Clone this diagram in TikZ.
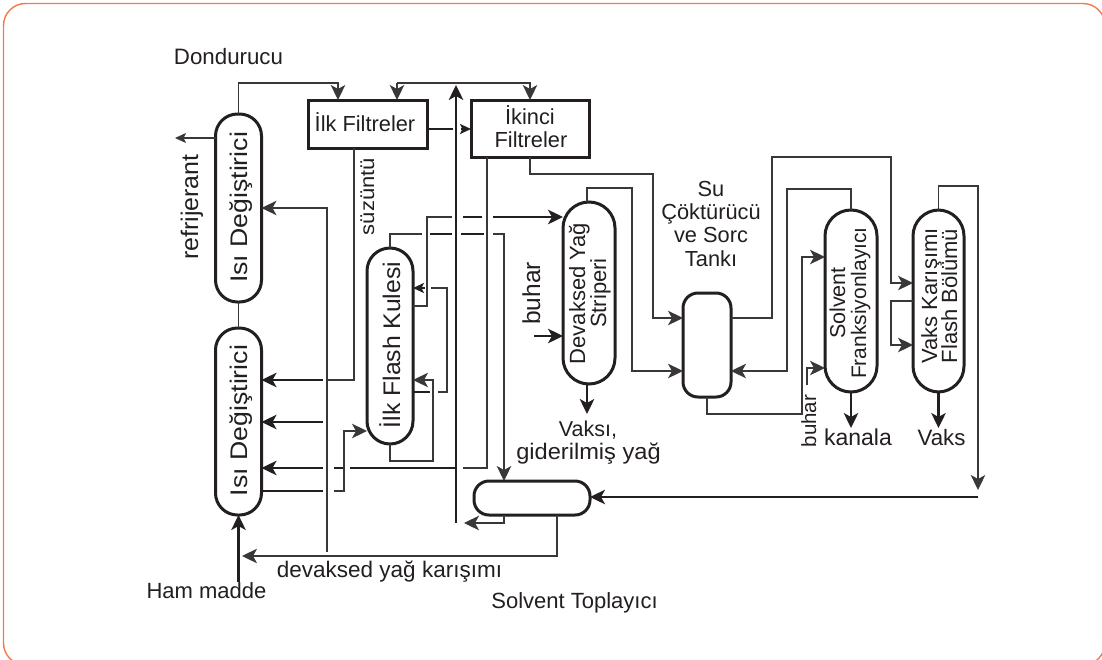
\documentclass[tikz,border=0pt]{standalone}
\usepackage{fontspec}
\setmainfont{Liberation Sans}
\usetikzlibrary{arrows.meta}
\definecolor{ink}{HTML}{231F20}
\definecolor{thin}{HTML}{3A3738}
\definecolor{frame}{HTML}{F27B4B}
\newcommand{\fs}[1]{\fontsize{#1}{#1}\selectfont}
\newcommand{\st}[2]{\scalebox{#1}[1]{#2}}
\tikzset{
  vessel/.style={draw=ink,line width=3pt,rounded corners=#1,inner sep=0pt,outer sep=0pt},
  filterbox/.style={draw=ink,line width=3pt,inner sep=0pt,outer sep=0pt},
  label/.style={inner sep=0pt,outer sep=0pt,anchor=base,text=ink},
  vlabel/.style={label,rotate=90},
  pipe/.style={draw=thin,line width=1.3pt},
  main/.style={draw=ink,line width=2.2pt},
  tip/.style={-{Stealth[length=15pt,width=14.5pt,inset=4pt]}},
  smalltip/.style={-{Stealth[length=11pt,width=10pt,inset=2.5pt]}},
}
\begin{document}
\begin{tikzpicture}[x=1pt,y=-1pt]
\useasboundingbox (0,0) rectangle (1102,659);
\fill[white] (0,0) rectangle (1102,659);
\draw[frame,line width=1.4pt,rounded corners=22pt] (3.5,3.5) -- (1105,3.5) -- (1105,665) -- (3.5,665) -- cycle;

% vessels
\node[vessel=22pt,minimum width=46pt,minimum height=188pt] (hxa) at (238.5,208) {};
\node[vessel=22pt,minimum width=46pt,minimum height=187pt] (hxb) at (238.5,421.5) {};
\node[filterbox,minimum width=119pt,minimum height=48pt] (fa) at (367.5,124) {};
\node[filterbox,minimum width=118pt,minimum height=57pt] (fb) at (530,128.5) {};
\node[vessel=23pt,minimum width=46pt,minimum height=196pt] (flash) at (390,346) {};
\node[vessel=26pt,minimum width=52pt,minimum height=182pt] (strip) at (589,293) {};
\node[vessel=15pt,minimum width=116pt,minimum height=34pt] (coll) at (532,498) {};
\node[vessel=15pt,minimum width=48pt,minimum height=104pt] (tank) at (707,345) {};
\node[vessel=26pt,minimum width=52pt,minimum height=182pt] (frak) at (851,301) {};
\node[vessel=26pt,minimum width=51pt,minimum height=182pt] (vaks) at (938.5,301) {};

% free ends
\coordinate (refout) at (175,138);
\coordinate (hamin) at (238.5,582);
\coordinate (devend) at (242,556);
\coordinate (recv) at (978,497);
\coordinate (stub) at (323,422);

% labels
\node[label] (tdond) at (228.5,64) {\fs{22.3}Dondurucu};
\node[vlabel] (tref) at (198,207) {\fs{24}\st{1.04}{refrijerant}};
\node[vlabel] (tsuz) at (374,196.5) {\fs{20}\st{1.1}{süzüntü}};
\node[vlabel] (thxa) at (247,207.5) {\fs{24}\st{1.11}{Isı Değiştirici}};
\node[vlabel] (thxb) at (247,420.5) {\fs{24}\st{1.11}{Isı Değiştirici}};
\node[label] (tfa) at (365,131) {\fs{21.8}İlk Filtreler};
\node[label] (tfb1) at (530,124) {\fs{21.8}İkinci};
\node[label] (tfb2) at (531,147) {\fs{21.8}Filtreler};
\node[vlabel] (tfl) at (400,345) {\fs{24}\st{1.03}{İlk Flash Kulesi}};
\node[vlabel] (tst1) at (585,293.5) {\fs{22}Devaksed Yağ};
\node[vlabel] (tst2) at (606,293) {\fs{22}Striperi};
\node[vlabel] (tbu1) at (540,293.5) {\fs{24.5}buhar};
\node[label] (tvd1) at (588,436) {\fs{21.5}Vaksı,};
\node[label] (tvd2) at (588.5,459) {\fs{22.5}\st{1.05}{giderilmiş yağ}};
\node[label] (tsu1) at (711,196) {\fs{21.8}Su};
\node[label] (tsu2) at (711,219) {\fs{21.8}Çöktürücü};
\node[label] (tsu3) at (711,242) {\fs{21.8}ve Sorc};
\node[label] (tsu4) at (711,266) {\fs{21.8}Tankı};
\node[vlabel] (tso1) at (845,303) {\fs{21.5}Solvent};
\node[vlabel] (tso2) at (866,303) {\fs{21}Franksiyonlayıcı};
\node[vlabel] (tva1) at (937,296) {\fs{22}Vaks Karışımı};
\node[vlabel] (tva2) at (957,296) {\fs{22}Flash Bölümü};
\node[vlabel] (tbu2) at (816,421) {\fs{20.5}buhar};
\node[label] (tkan) at (858,445) {\fs{23}kanala};
\node[label] (tvak) at (941.5,445) {\fs{22.3}Vaks};
\node[label] (tdev) at (389.5,577) {\fs{22.5}devaksed yağ karışımı};
\node[label] (tham) at (206.5,598) {\fs{22}Ham madde};
\node[label] (tsol) at (574.5,608) {\fs{22}Solvent Toplayıcı};

% heat exchangers
\draw[pipe,tip] (hxa.north) |- (338,83) -- (fa.north -| 338,0);
\draw[pipe,smalltip] (hxa.west |- refout) -- (refout);
\draw[pipe] (hxa.south) -- (hxb.north);
\draw[main,tip] (hamin) -- (hxb.south);

% filter loop
\draw[pipe,tip] (397,83) -- (fa.north -| 397,0);
\draw[pipe,tip] (397,83) -- (530,83) -- (fb.north);

% solvent main
\draw[main,tip] (456,523) -- (456,85);

% first to second filter
\draw[main] (fa.east |- 0,129) -- (453,129);
\draw[main,smalltip] (461,129) -- (fb.west |- 0,129);

% filtrate
\draw[pipe] (fa.south -| 354,0) -- (354,380) -- (327,380);
\draw[main,tip] (323,380) -- (hxb.east |- 0,380);
\draw[pipe,tip] (327,552) -- (327,208) -- (hxa.east |- 0,208);
\draw[main,tip] (stub) -- (hxb.east |- stub);

% from second filter
\draw[pipe] (fb.south -| 487,0) -- (487,468) -- (463,468);
\draw[main] (455,468) -- (350,468);
\draw[main] (344,468) -- (334,468);
\draw[main,tip] (323,468) -- (hxb.east |- 0,468);

% to flash
\draw[main] (hxb.east |- 0,491) -- (323,491);
\draw[pipe,tip] (334,491) -- (344,491) -- (344,431) -- (flash.west |- 0,431);

% flash recirculation
\draw[pipe,tip] (flash.south) |- (433,461) |- (flash.east |- 0,380);
\draw[main] (flash.east |- 0,392) -- (430,392);
\draw[pipe] (438,392) -- (447,392) -- (447,288) -- (431,288);
\draw[main,smalltip] (425,288) -- (flash.east |- 0,288);

% flash to stripper
\draw[pipe] (flash.east |- 0,306) -- (427,306) -- (427,217) -- (452,217);
\draw[main] (463,217) -- (482,217);
\draw[main,tip] (493,217) -- (strip.west |- 0,217);

% flash top
\draw[pipe] (flash.north) |- (422,234);
\draw[main] (430,234) -- (452,234);
\draw[main] (461,234) -- (484,234);
\draw[pipe,tip] (493,234) -- (504,234) -- (coll.north -| 504,0);

% collector
\draw[pipe,tip] (coll.south -| 504,0) -- (504,523) -- (464,523);
\draw[pipe,tip] (coll.south -| 557,0) -- (557,556) -- (devend);
\draw[main,tip] (recv) -- (coll.east |- recv);
\draw[pipe,tip] (vaks.north) |- (978,186) -- (978,490);

% to water tank
\draw[pipe,tip] (fb.south) |- (653,174) |- (tank.west |- 0,318);
\draw[pipe,tip] (strip.north -| 587,0) |- (632,188) |- (tank.west |- 0,371);
\draw[pipe,tip] (tank.east |- 0,318) -- (772,318) -- (772,157) -- (891,157) |- (vaks.west |- 0,283);
\draw[pipe,tip] (vaks.west |- 0,301) -- (891,301) |- (vaks.west |- 0,345);
\draw[pipe,tip] (frak.north) |- (787,189) |- (tank.east |- 0,371);
\draw[pipe,tip] (tank.south) |- (802,414) |- (frak.west |- 0,257);
\draw[pipe,tip] (807,385) |- (frak.west |- 0,368);

% outlets
\draw[main,tip] (frak.south) -- (851,428);
\draw[main,tip] (vaks.south) -- (938.5,428);
\draw[main,tip] (strip.south -| 587,0) -- (587,414);
\draw[main,tip] (534,336) -- (strip.west |- 0,336);
\end{tikzpicture}
\end{document}
